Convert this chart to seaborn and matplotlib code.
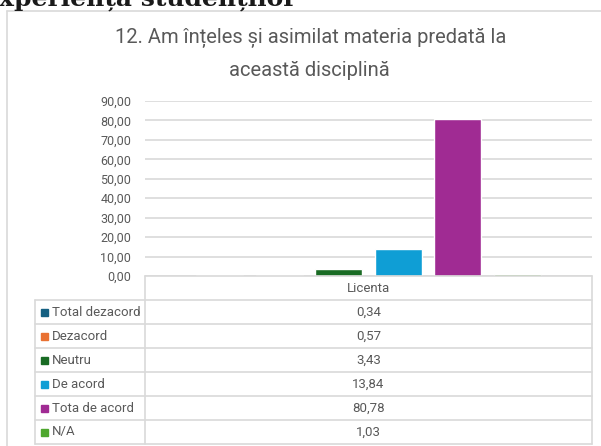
import pandas as pd
import matplotlib.pyplot as plt
import seaborn as sns
from matplotlib.lines import Line2D
from matplotlib.patches import Rectangle

# data
categories = ['Total dezacord', 'Dezacord', 'Neutru', 'De acord', 'Tota de acord', 'N/A']
values = [0.34, 0.57, 3.43, 13.84, 80.78, 1.03]
group = 'Licenta'
colors = ['#156082', '#E97132', '#196B24', '#0F9ED5', '#A02B93', '#4EA72E']
yticks = [0, 10, 20, 30, 40, 50, 60, 70, 80, 90]

df = pd.DataFrame({'grup': [group] * len(categories), 'raspuns': categories, 'procent': values})

sns.set_theme(style='white')
plt.rcParams['font.family'] = ['Roboto', 'DejaVu Sans']

W, H = 601, 446
fig = plt.figure(figsize=(W / 100, H / 100), dpi=100)

def fx(px):
    return px / W

def fy(py):
    return 1 - py / H

grey = '#595959'
line_c = '#d9d9d9'

# plot area in pixels
left, right, top, bottom = 145, 592, 101, 276
ax = fig.add_axes([fx(left), fy(bottom), fx(right - left), (bottom - top) / H])
sns.barplot(data=df, x='grup', y='procent', hue='raspuns', palette=colors,
            width=0.8, gap=0.21, legend=False, ax=ax, saturation=1)
ax.set_ylim(0, 90)
ax.set_xlim(-0.5, 0.5)
ax.set_yticks(yticks)
ax.set_yticklabels([f'{t:.2f}'.replace('.', ',') for t in yticks], color=grey, fontsize=9)
ax.tick_params(axis='y', length=0, pad=10)
ax.set_xticks([])
ax.set_xlabel('')
ax.set_ylabel('')
ax.grid(axis='y', color=line_c, linewidth=1.2)
ax.set_axisbelow(True)
for s in ax.spines.values():
    s.set_visible(False)

# clipped heading from the page above the chart
fig.text(fx(-17), fy(6), 'experiența studenților', fontsize=18, fontweight='bold',
         family=['DejaVu Serif'], color='#1a1a1a', va='baseline', ha='left')

# chart frame
fig.add_artist(Line2D([fx(7), fx(7)], [fy(11), fy(H)], color=line_c, lw=1.2, transform=fig.transFigure))
fig.add_artist(Line2D([fx(7), fx(W)], [fy(11), fy(11)], color=line_c, lw=1.2, transform=fig.transFigure))

# title
fig.text(fx(311), fy(38), '12. Am înțeles și asimilat materia predată la', ha='center', va='center',
         fontsize=14.5, color=grey)
fig.text(fx(309), fy(70), 'această disciplină', ha='center', va='center', fontsize=14.5, color=grey)

# data table
row_h = 24
header_top, header_bot = 276, 300
col_left, col_mid = 35, 145

def hline(y, x0, x1):
    fig.add_artist(Line2D([fx(x0), fx(x1)], [fy(y), fy(y)], color=line_c, lw=1.2, transform=fig.transFigure))

def vline(x, y0, y1):
    fig.add_artist(Line2D([fx(x), fx(x)], [fy(y0), fy(y1)], color=line_c, lw=1.2, transform=fig.transFigure))

hline(header_top, col_mid, right)
hline(header_bot, col_left, right)
last = header_bot + row_h * len(categories)
vline(col_mid, header_top, last)
vline(right, header_top, last)
vline(col_left, header_bot, last)
fig.text(fx((col_mid + right) / 2), fy((header_top + header_bot) / 2), group, ha='center', va='center',
         fontsize=9.5, color=grey)

for i, (cat, val, col) in enumerate(zip(categories, values, colors)):
    y0 = header_bot + i * row_h
    hline(y0 + row_h, col_left, right)
    yc = y0 + row_h / 2
    fig.add_artist(Rectangle((fx(41), fy(yc + 3.5)), 7 / W, 7 / H, color=col, transform=fig.transFigure))
    fig.text(fx(52), fy(yc), cat, ha='left', va='center', fontsize=9.5, color=grey)
    fig.text(fx((col_mid + right) / 2), fy(yc), f'{val:.2f}'.replace('.', ','), ha='center', va='center',
             fontsize=9.5, color=grey)

fig.savefig('out.png', dpi=100)
